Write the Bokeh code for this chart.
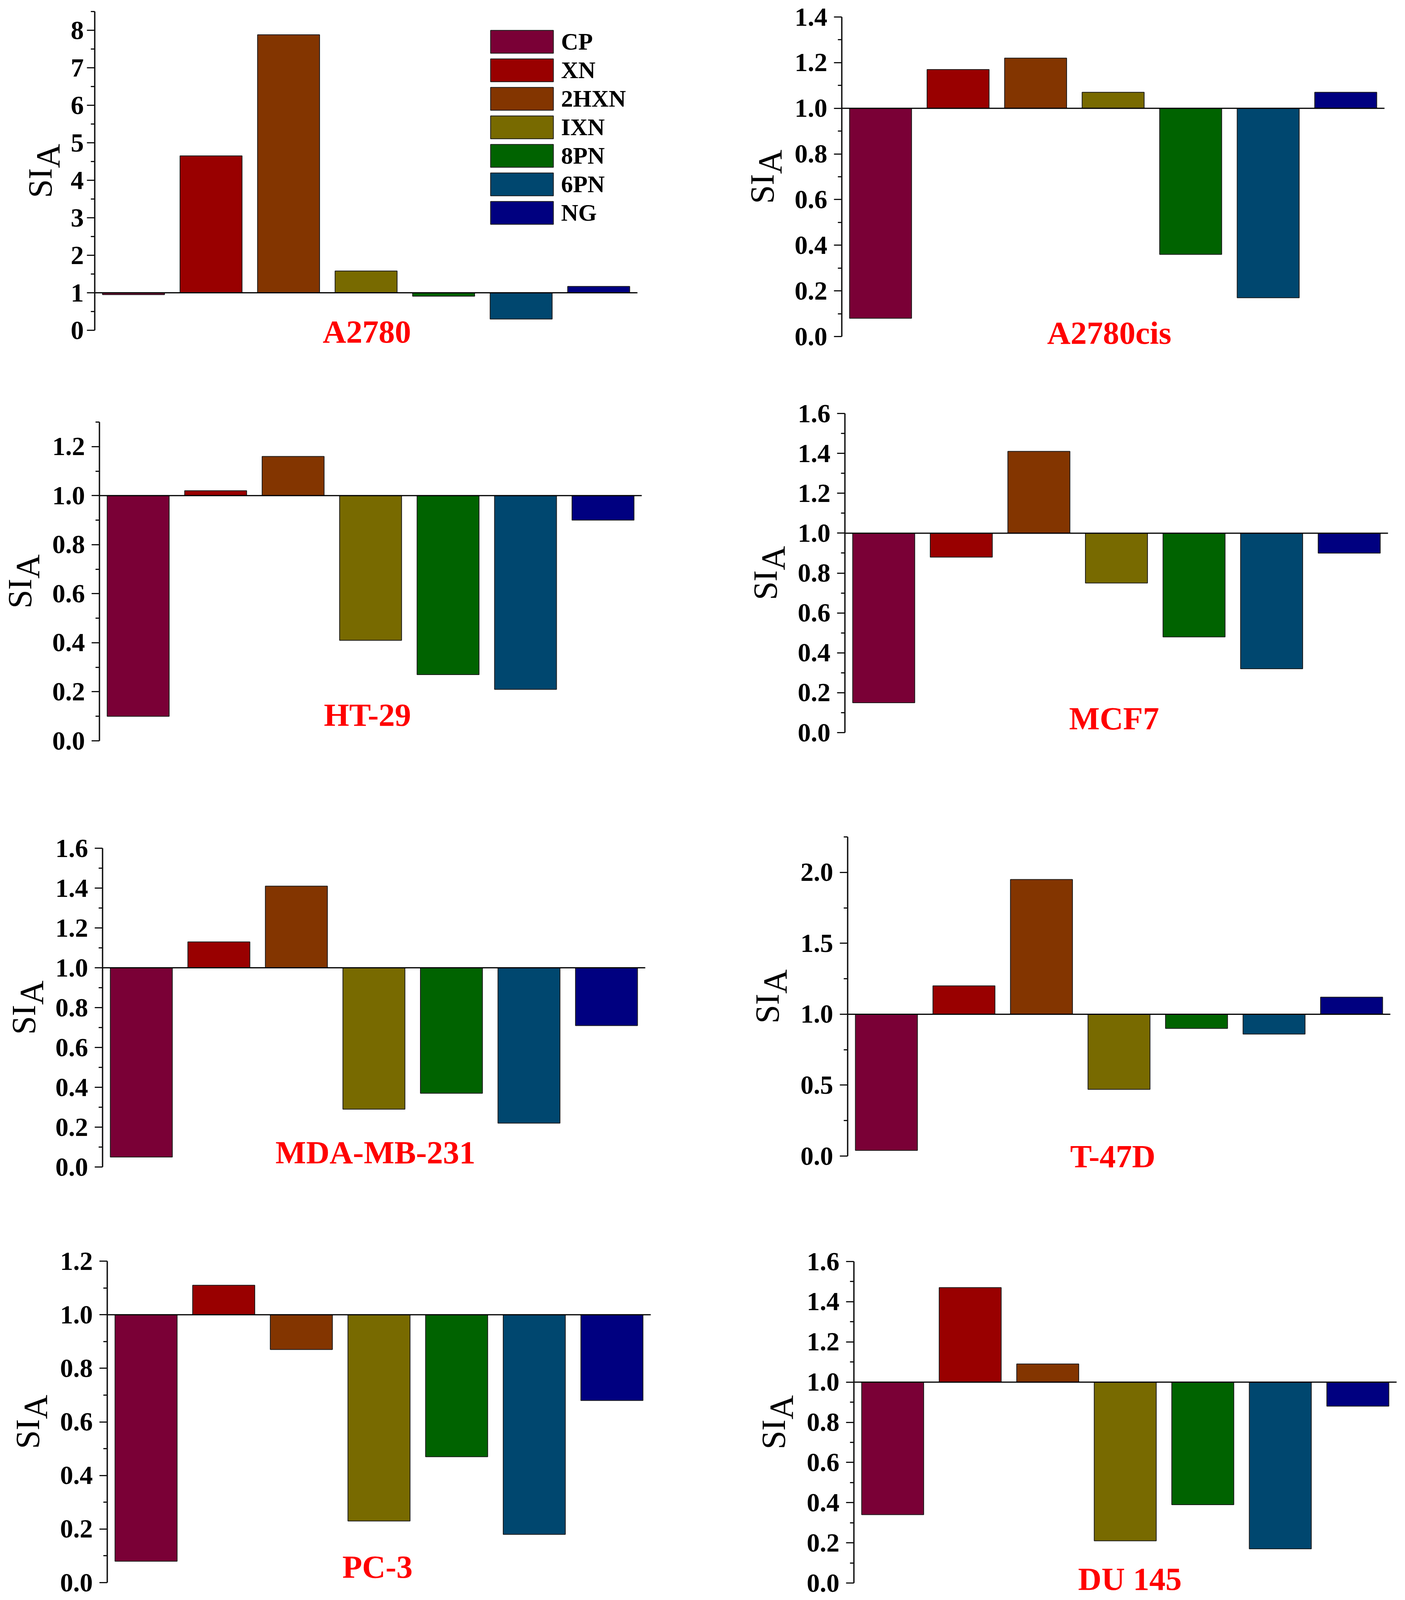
import math
from bokeh.plotting import figure
from bokeh.models import Range1d, FixedTicker, PrintfTickFormatter, Label, ColumnDataSource, LinearAxis
from bokeh.layouts import column, row
from bokeh.embed import file_html
from bokeh.resources import INLINE

# ---------------- data ----------------
categories = ["CP", "XN", "2HXN", "IXN", "8PN", "6PN", "NG"]
cell_lines = ["A2780", "A2780cis", "HT-29", "MCF7", "MDA-MB-231", "T-47D", "PC-3", "DU 145"]

si_a2780 = [0.95, 4.65, 7.88, 1.58, 0.91, 0.30, 1.17]
si_a2780cis = [0.08, 1.17, 1.22, 1.07, 0.36, 0.17, 1.07]
si_ht29 = [0.10, 1.02, 1.16, 0.41, 0.27, 0.21, 0.90]
si_mcf7 = [0.15, 0.88, 1.41, 0.75, 0.48, 0.32, 0.90]
si_mdamb231 = [0.05, 1.13, 1.41, 0.29, 0.37, 0.22, 0.71]
si_t47d = [0.04, 1.20, 1.95, 0.47, 0.90, 0.86, 1.12]
si_pc3 = [0.08, 1.11, 0.87, 0.23, 0.47, 0.18, 0.68]
si_du145 = [0.34, 1.47, 1.09, 0.21, 0.39, 0.17, 0.88]

series = [si_a2780, si_a2780cis, si_ht29, si_mcf7, si_mdamb231, si_t47d, si_pc3, si_du145]

y_tops = [8.5, 1.4, 1.3, 1.6, 1.6, 2.25, 1.2, 1.6]
y_steps = [1.0, 0.2, 0.2, 0.2, 0.2, 0.5, 0.2, 0.2]
reference_level = 1.0

# ---------------- styles / layout ----------------
colors = ["#7A0036", "#990000", "#833500", "#786A00", "#006300", "#00476F", "#000080"]
SERIF = "Liberation Serif"

# the visible viewport is shorter than the reference, so vertical geometry is scaled
REF_H, VIEW_H = 4975, 4105
V = VIEW_H / REF_H
MARGIN = 8

X_START, X_END = 0.5, 7.5          # extent of the category axis
col_w = 1790
row_bounds = [0, 960, 2040, 3110, 4090]
frame_top_ref = [45, 62, 1319, 1292, 2641, 2606, 3922, 3923]
frame_bot_ref = [1034.5, 1053, 2307.5, 2282, 3630, 3596, 4920, 4920]
frame_left = [242, 364, 254, 372, 262, 379, 274, 395]
frame_w = [1389, 1389, 1388, 1390, 1389, 1389, 1391, 1389]
label_x = [4.01, 3.95, 3.96, 3.97, 4.02, 3.92, 3.98, 4.06]
label_dy_ref = [-4, 11, 81, 44, 46, 0, 49, 13]          # caps centre above the zero line
sia_s_ctr = [140, 204, 204, 204, 202, 206, 204, 206]    # centre of "SI" left of the axis
sia_a_ctr = [120, 184, 184, 184, 182, 186, 184, 186]    # centre of subscript "A"
tick_standoff = [8, 17, 17, 17, 17, 17, 17, 17]

TICK_FONT = "67px"
NAME_FONT = "83px"
LEGEND_FONT = "61px"
SIA_SIZE = 86


def make_panel(i):
    vals = series[i]
    top = y_tops[i]
    step = y_steps[i]
    r = i // 2
    h = row_bounds[r + 1] - row_bounds[r]
    ft = round(frame_top_ref[i] * V - MARGIN - row_bounds[r])
    fh = round((frame_bot_ref[i] - frame_top_ref[i]) * V)
    fl, fw = frame_left[i], frame_w[i]
    ppx = fw / (X_END - X_START)
    ppy = fh / top
    x_lo = X_START - fl / ppx
    x_hi = X_END + (col_w - fl - fw) / ppx
    y_hi = top + ft / ppy
    y_lo = -(h - ft - fh) / ppy

    p = figure(width=col_w, height=h, output_backend="svg", toolbar_location=None,
               title=None, x_axis_location=None, y_axis_location=None,
               x_range=Range1d(x_lo, x_hi), y_range=Range1d(y_lo, y_hi),
               min_border_left=0, min_border_right=0,
               min_border_top=0, min_border_bottom=0)
    p.outline_line_color = None
    p.grid.visible = False
    p.background_fill_color = "white"
    p.border_fill_color = "white"

    src = ColumnDataSource(dict(
        x=list(range(1, len(categories) + 1)),
        top=vals,
        bottom=[reference_level] * len(vals),
        color=colors,
        cat=categories,
    ))
    kw = dict(x="x", top="top", bottom="bottom", width=0.8, source=src,
              fill_color="color", line_color="#1a1a1a", line_width=2)
    if i == 0:
        p.vbar(legend_field="cat", **kw)
    else:
        p.vbar(**kw)

    # reference line at SI = 1 across the category extent
    p.segment(x0=[X_START], x1=[X_END], y0=[reference_level], y1=[reference_level],
              line_color="black", line_width=3)

    n = int(round(top / step))
    majors = [round(k * step, 6) for k in range(n + 1) if k * step <= top + 1e-9]
    minors = []
    k = 0
    while (k + 0.5) * step <= top + 1e-9:
        minors.append(round((k + 0.5) * step, 6))
        k += 1
    ax = LinearAxis(fixed_location=X_START, bounds=(0, top))
    ax.ticker = FixedTicker(ticks=majors, minor_ticks=minors)
    ax.formatter = PrintfTickFormatter(format="%d" if step >= 1 else "%.1f")
    ax.axis_line_width = 3.5
    ax.axis_line_color = "#111111"
    ax.major_tick_line_width = 3
    ax.minor_tick_line_width = 3
    ax.major_tick_line_color = "#111111"
    ax.minor_tick_line_color = "#111111"
    ax.major_tick_out = 20
    ax.major_tick_in = 0
    ax.minor_tick_out = 10
    ax.minor_tick_in = 0
    ax.major_label_standoff = tick_standoff[i]
    ax.major_label_text_font = SERIF
    ax.major_label_text_font_style = "bold"
    ax.major_label_text_font_size = TICK_FONT
    ax.major_label_text_color = "black"
    p.add_layout(ax, "left")

    # y-axis title: SI with subscript A (rotated, reading upwards), centred on the frame
    si_len = 0.889 * SIA_SIZE
    a_len = 0.722 * SIA_SIZE
    half = (si_len + a_len) / 2
    p.add_layout(Label(x=X_START, y=top / 2 - half / ppy, x_offset=-sia_s_ctr[i],
                       text="SI", angle=math.pi / 2, text_align="left",
                       text_baseline="middle", text_font=SERIF,
                       text_font_size=f"{SIA_SIZE}px", text_color="black"))
    p.add_layout(Label(x=X_START, y=top / 2 + (si_len - half) / ppy, x_offset=-sia_a_ctr[i],
                       text="A", angle=math.pi / 2, text_align="left",
                       text_baseline="middle", text_font=SERIF,
                       text_font_size=f"{SIA_SIZE}px", text_color="black"))
    # cell line name
    p.add_layout(Label(x=label_x[i], y=label_dy_ref[i] * V / ppy, text=cell_lines[i],
                       text_align="center", text_baseline="middle",
                       text_font=SERIF, text_font_style="bold",
                       text_font_size=NAME_FONT, text_color="#FF0000"))

    if i == 0:
        gh = round(88.6 * V)
        legend_top = 103 * V - MARGIN - 0.1 * gh
        lg = p.legend[0]
        lg.location = (1235, round(h - legend_top - 7 * gh))
        lg.glyph_width = 201
        lg.glyph_height = gh
        lg.label_height = gh
        lg.spacing = 0
        lg.padding = 0
        lg.margin = 0
        lg.label_standoff = 0
        lg.border_line_color = None
        lg.background_fill_alpha = 0
        lg.label_text_font = SERIF
        lg.label_text_font_style = "bold"
        lg.label_text_font_size = LEGEND_FONT
        lg.label_text_color = "black"
        lg.label_text_baseline = "middle"
    return p


panels = [make_panel(i) for i in range(8)]
layout = column(
    row(panels[0], panels[1]),
    row(panels[2], panels[3]),
    row(panels[4], panels[5]),
    row(panels[6], panels[7]),
)

open("out.html", "w").write(file_html(layout, INLINE))
